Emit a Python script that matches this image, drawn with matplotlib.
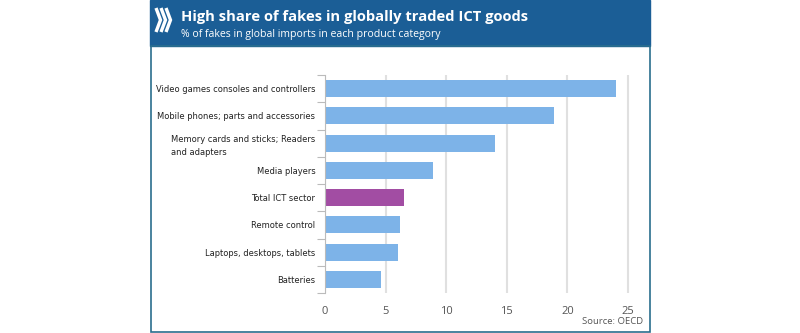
import numpy as np
import matplotlib.pyplot as plt
from matplotlib.patches import Rectangle

categories = ['Video games consoles and controllers',
              'Mobile phones; parts and accessories',
              'Memory cards and sticks; Readers\nand adapters',
              'Media players',
              'Total ICT sector',
              'Remote control',
              'Laptops, desktops, tablets',
              'Batteries']
values = [24.0, 18.9, 14.0, 8.9, 6.5, 6.2, 6.05, 4.6]
highlight = 'Total ICT sector'
xticks = [0, 5, 10, 15, 20, 25]

W, H = 800, 333
fig = plt.figure(figsize=(8, 3.33), dpi=100)

def fx(px):
    return px / W

def fy(py):
    return 1 - py / H

# header and frame
fig.patches.append(Rectangle((fx(150), fy(46)), fx(650) - fx(150), fy(0) - fy(46),
                             transform=fig.transFigure, color='#1b5e96', zorder=0))
fig.patches.append(Rectangle((fx(150.5), fy(332)), fx(649.5) - fx(150.5), fy(46) - fy(332),
                             transform=fig.transFigure, fill=False, edgecolor='#2a6e8e',
                             lw=1.2, zorder=0))

# chevrons
for off in [0, 5, 10]:
    x0 = 156 + off
    xs = [fx(x0), fx(x0 + 4.5), fx(x0)]
    ys = [fy(8), fy(20), fy(32)]
    fig.add_artist(plt.Line2D(xs, ys, transform=fig.transFigure, color='white',
                              lw=2.4, solid_capstyle='butt', solid_joinstyle='miter'))

fig.text(fx(181), fy(17), 'High share of fakes in globally traded ICT goods',
         color='white', fontsize=10.6, fontweight='bold', family='Open Sans',
         va='center', ha='left')
fig.text(fx(181), fy(34.5), '% of fakes in global imports in each product category',
         color='white', fontsize=7.6, family='Open Sans', va='center', ha='left')

ax = fig.add_axes([fx(325), fy(293), fx(637) - fx(325), fy(75) - fy(293)])
y = np.arange(len(categories))
colors = ['#a24da3' if c == highlight else '#7db3e8' for c in categories]
ax.barh(y, values, height=0.62, color=colors, zorder=3)
ax.set_ylim(len(categories) - 0.5, -0.5)
ax.set_xlim(0, 25.75)

ax.set_yticks(y)
ax.set_yticklabels(categories, family='DejaVu Sans', stretch='condensed',
                   fontsize=6.7, color='#222222', multialignment='left',
                   linespacing=1.6)
ax.tick_params(axis='y', which='major', length=0, pad=7)
ax.set_yticks(np.arange(-0.5, len(categories)), minor=True)
ax.tick_params(axis='y', which='minor', length=6, color='#bbbbbb', width=0.8)

ax.set_xticks(xticks)
ax.set_xticklabels([str(t) for t in xticks], family='Open Sans', fontsize=8,
                   color='#555555')
ax.tick_params(axis='x', length=0, pad=9)
ax.grid(axis='x', color='#e0e0e0', lw=1.5, zorder=0)

for s in ['top', 'right', 'bottom']:
    ax.spines[s].set_visible(False)
ax.spines['left'].set_color('#bbbbbb')
ax.spines['left'].set_linewidth(0.8)
ax.spines['left'].set_zorder(4)

fig.text(fx(643), fy(321), 'Source: OECD', family='Open Sans', fontsize=6.8,
         color='#555555', ha='right', va='center')

fig.savefig('out.png', dpi=100)
